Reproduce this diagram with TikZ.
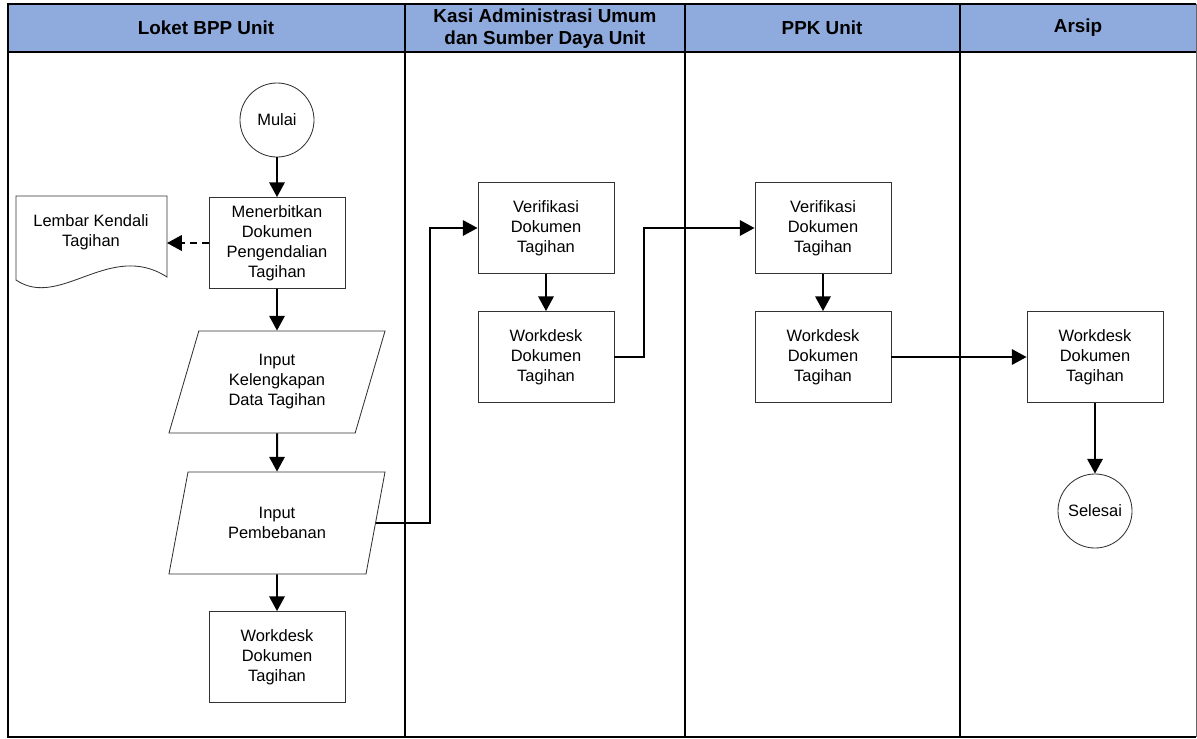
\documentclass[tikz,border=0pt]{standalone}
\usepackage{fontspec}
\setmainfont{Liberation Sans}
\usetikzlibrary{arrows.meta,shapes.geometric}
\definecolor{laneblue}{HTML}{8FAADC}

\begin{document}
\begin{tikzpicture}[x=0.025cm, y=-0.025cm,
        isi/.style={font=\fontsize{11.7}{14.2}\selectfont, align=center},
        proses/.style={isi, rectangle, draw=black!80, fill=white, line width=0.6pt, minimum width=3.4cm, minimum height=2.275cm},
        input/.style={isi, trapezium, trapezium left angle=65, trapezium right angle=115, trapezium stretches body, draw=black!80, fill=white, line width=0.6pt, minimum width=5.4cm, minimum height=2.55cm},
        terminal/.style={isi, circle, draw=black!80, fill=white, line width=0.6pt, minimum size=1.85cm, inner sep=0pt},
        judul/.style={font=\bfseries\fontsize{13.4}{15.6}\selectfont, align=center},
        alur/.style={line width=1.4pt, -{Triangle[length=10.5pt, width=11pt]}}]

            \useasboundingbox (0, 0) rectangle (1197, 738);

            % swimlanes
            \fill[laneblue] (8, 4) rectangle (1196, 52);
            \draw[black!60, line width=0.7pt] (1196, 4) -- (1196, 737);
            \draw[line width=1.4pt] (1196, 4) -- (8, 4) -- (8, 737) -- (1196, 737);
            \draw[line width=1.4pt] (8, 52) -- (1196, 52);
            \draw[line width=1.4pt] (405, 4) -- (405, 737);
            \draw[line width=1.4pt] (685, 4) -- (685, 737);
            \draw[line width=1.4pt] (960, 4) -- (960, 737);

            \node[judul] (lane1) at (206, 28) {Loket BPP Unit};
            \node[judul] (lane2) at (545, 29) {Kasi Administrasi Umum\\dan Sumber Daya Unit};
            \node[judul] (lane3) at (822, 28) {PPK Unit};
            \node[judul] (lane4) at (1078, 28) {Arsip};

            % Loket BPP Unit
            \node[terminal] (mulai) at (277, 120) {Mulai};
            \node[proses] (terbit) at (277, 243) {Menerbitkan\\Dokumen\\Pengendalian\\Tagihan};
            \draw[black!80, line width=0.6pt] (167, 196) -- (16, 196) -- (16, 280)
                .. controls (60, 310) and (110, 240) .. (167, 277) -- cycle;
            \node[isi] (lembar) at (91, 232) {Lembar Kendali\\Tagihan};
            \coordinate (lembarE) at (167, 243);
            \node[input] (kelengkapan) at (277, 382) {Input\\Kelengkapan\\Data Tagihan};
            \node[input] (pembebanan) at (277, 523) {Input\\Pembebanan};
            \node[proses] (wd1) at (277, 657) {Workdesk\\Dokumen\\Tagihan};

            % Kasi Administrasi Umum
            \node[proses] (verif2) at (546, 228) {Verifikasi\\Dokumen\\Tagihan};
            \node[proses] (wd2) at (546, 357) {Workdesk\\Dokumen\\Tagihan};

            % PPK Unit
            \node[proses] (verif3) at (823, 228) {Verifikasi\\Dokumen\\Tagihan};
            \node[proses] (wd3) at (823, 357) {Workdesk\\Dokumen\\Tagihan};

            % Arsip
            \node[proses] (wd4) at (1095, 357) {Workdesk\\Dokumen\\Tagihan};
            \node[terminal] (selesai) at (1095, 511) {Selesai};

            \draw[alur] (mulai) to (terbit);
            \draw[alur, dash pattern=on 5pt off 3.5pt] (terbit.west) to (lembarE);
            \draw[alur] (terbit) to (kelengkapan);
            \draw[alur] (kelengkapan) to (pembebanan);
            \draw[alur] (pembebanan) to (wd1);
            \draw[alur] (pembebanan.east) -| ([xshift=-1.2cm]verif2.west) -- (verif2.west);
            \draw[alur] (verif2) to (wd2);
            \draw[alur] (wd2.east) -| ([xshift=-2.775cm]verif3.west) -- (verif3.west);
            \draw[alur] (verif3) to (wd3);
            \draw[alur] (wd3) to (wd4);
            \draw[alur] (wd4) to (selesai);

        \end{tikzpicture}
\end{document}
